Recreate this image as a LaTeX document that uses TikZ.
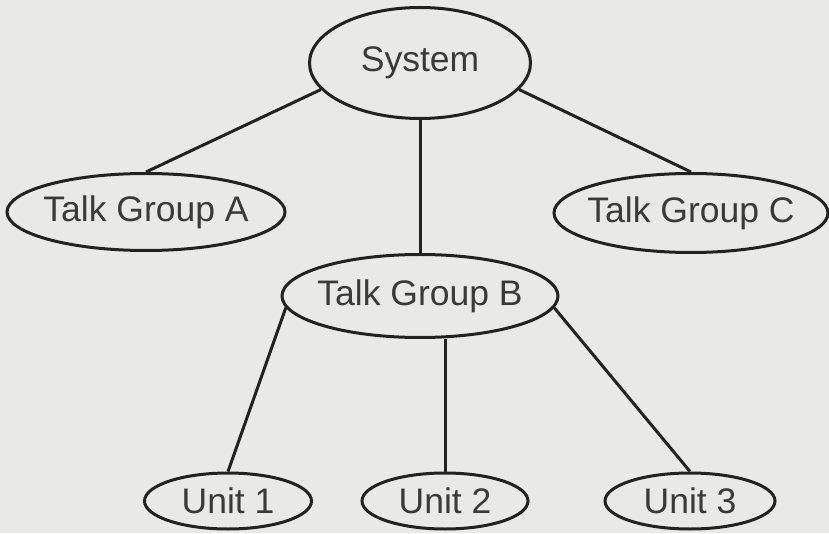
\documentclass[tikz,border=0pt]{standalone}
\usepackage{fontspec}
\setmainfont{Liberation Sans}
\usetikzlibrary{shapes.geometric,positioning}
\definecolor{paper}{RGB}{233,233,231}
\definecolor{ink}{RGB}{34,34,34}
\definecolor{txt}{RGB}{58,58,58}
\newcommand{\lbl}[1]{\makebox[0pt]{#1}}

\begin{document}
\begin{tikzpicture}[x=1pt,y=1pt,color=ink,line width=3pt,
  grp/.style={ellipse,draw,inner sep=0pt,text=txt,font=\fontsize{35.5}{42}\selectfont}]
\fill[paper](0,0)rectangle(829,533);
\useasboundingbox(0,0)rectangle(829,533);
\node[grp,minimum width=221,minimum height=111](sys)at(420,470){\lbl{System}};
\node[grp,minimum width=278,minimum height=77](tgA)at(146,321){\lbl{Talk Group A}};
\node[grp,minimum width=274,minimum height=79](tgC)at(691,320){\lbl{Talk Group C}};
\node[grp,minimum width=276,minimum height=83](tgB)at(420,237){\lbl{Talk Group B}};
\node[grp,minimum width=167,minimum height=56](u1)at(228,32){\lbl{Unit 1}};
\node[grp,minimum width=166,minimum height=56](u2)at(445,32){\lbl{Unit 2}};
\node[grp,minimum width=170,minimum height=56](u3)at(690,32){\lbl{Unit 3}};
\draw(sys.195)--(tgA.north);
\draw(sys.south)--(tgB.north);
\draw(sys.345)--(tgC.north);
\draw(tgB.185)--(u1.north);
\draw(tgB.south -| u2.north)--(u2.north);
\draw(tgB.355)--(u3.north);
\end{tikzpicture}
\end{document}
